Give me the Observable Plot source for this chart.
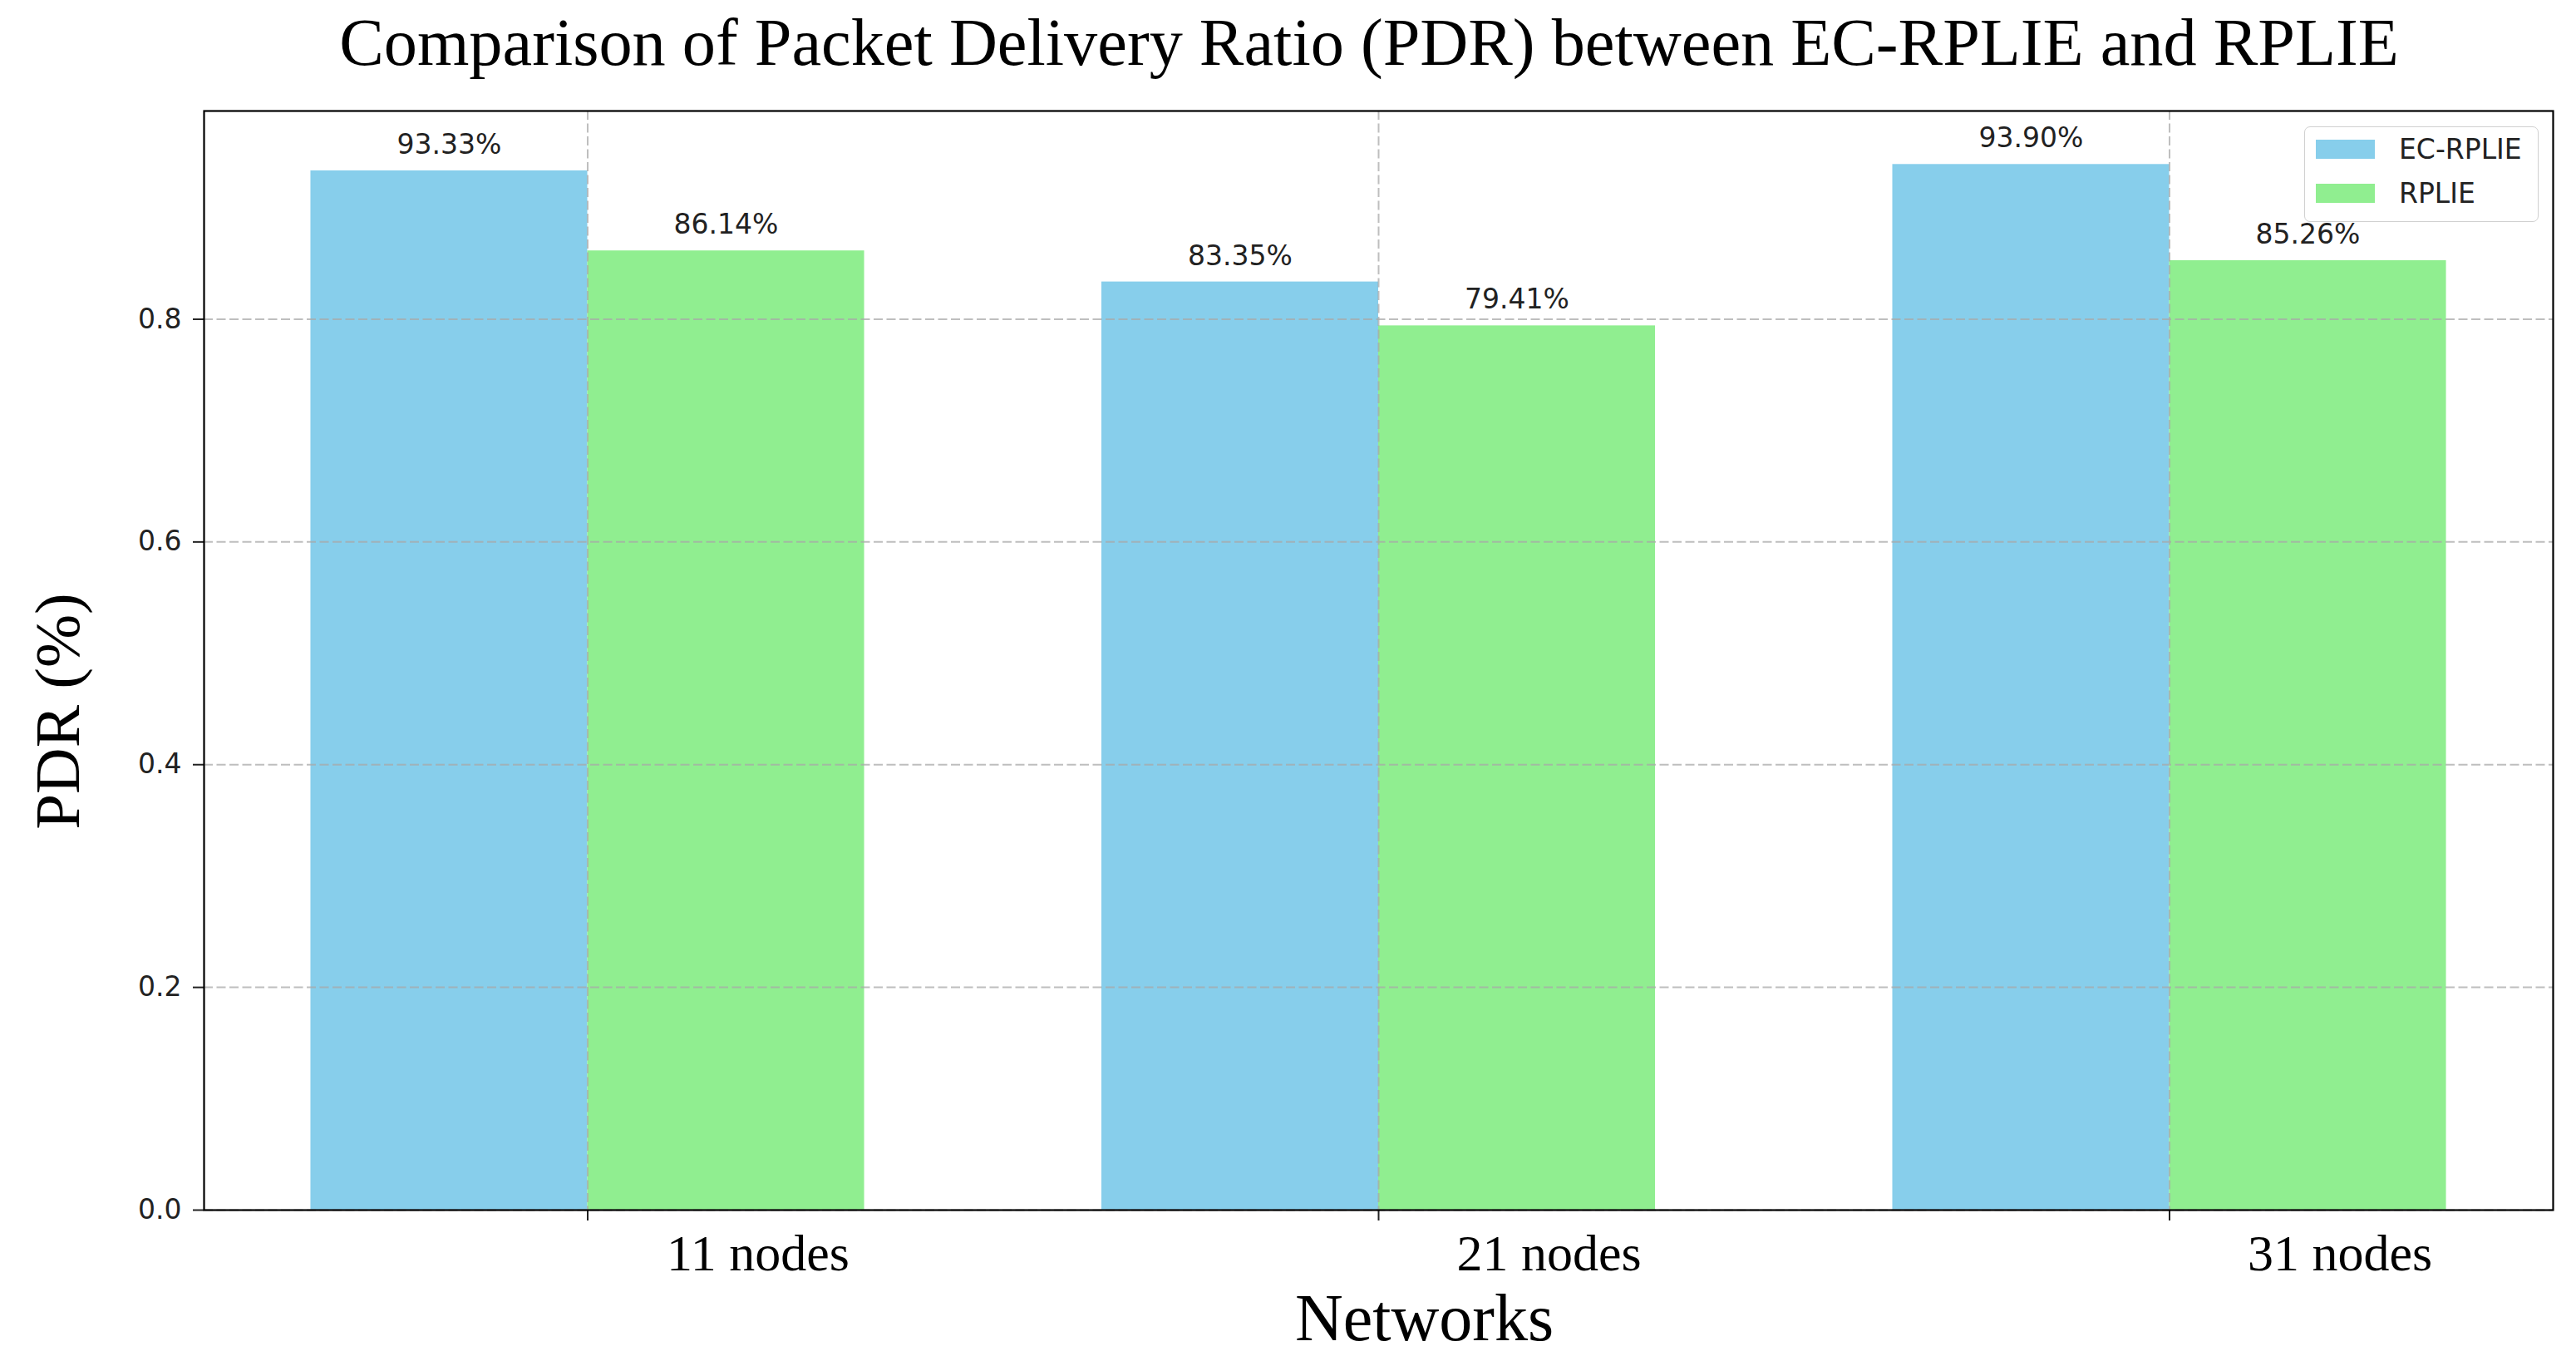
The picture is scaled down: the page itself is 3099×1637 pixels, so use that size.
<!DOCTYPE html>
<html>
<head>
<meta charset="utf-8">
<script src="https://cdn.jsdelivr.net/npm/d3@7"></script>
<script src="https://cdn.jsdelivr.net/npm/@observablehq/plot@0.6"></script>
<style>
  html, body { margin: 0; padding: 0; background: white; }
  #wrap { position: relative; width: 3099px; height: 1637px; background: white; overflow: hidden; }
  #title { height: 120px; line-height: 102px; font-family: "Liberation Serif", serif; font-size: 80.3px; color: #000; text-align: center; padding-left: 195px; white-space: nowrap; }
  #legend { position: absolute; left: 2772px; top: 152px; width: 280px; height: 113px; border: 1.5px solid #d0d0d0; border-radius: 7px; background: rgba(255,255,255,0.8); font-family: "DejaVu Sans", sans-serif; font-size: 33px; color: #222; }
  .item { position: absolute; left: 13px; height: 23px; }
  .sw { position: absolute; left: 0; top: 0; width: 71px; height: 23px; }
  .lab { position: absolute; left: 100px; top: -10px; line-height: 43px; white-space: nowrap; }
</style>
</head>
<body>
<div id="wrap">
  <div id="title">Comparison of Packet Delivery Ratio (PDR) between EC-RPLIE and RPLIE</div>
  <div id="chart"></div>
  <div id="legend"></div>
</div>
<script>
const categories = ["11 nodes", "21 nodes", "31 nodes"];
const seriesNames = ["EC-RPLIE", "RPLIE"];
const ecRplie = [0.9333, 0.8335, 0.9390];
const rplie = [0.8614, 0.7941, 0.8526];
const yTicks = [0.0, 0.2, 0.4, 0.6, 0.8];
const colors = ["#87CEEB", "#90EE90"];

const barWidth = 0.35;
const offsets = [-barWidth, 0];
const rows = [];
categories.forEach((c, i) => {
  rows.push({i, category: c, series: seriesNames[0], s: 0, value: ecRplie[i]});
  rows.push({i, category: c, series: seriesNames[1], s: 1, value: rplie[i]});
});
const idx = categories.map((_, i) => i);
const gridStyle = {stroke: "#a8a8a8", strokeOpacity: 0.75, strokeDasharray: "11,4.5", strokeWidth: 2};

const chart = Plot.plot({
  width: 3099,
  height: 1517,
  marginTop: 13,
  marginBottom: 182,
  marginLeft: 245,
  marginRight: 28,
  style: {background: "white", fontFamily: "DejaVu Sans, sans-serif", color: "#222"},
  x: {domain: [-0.485, 2.485], axis: null},
  y: {domain: [0, 0.987], axis: null},
  color: {domain: seriesNames, range: colors},
  marks: [
    Plot.rect(rows, {
      x1: d => d.i + offsets[d.s],
      x2: d => d.i + offsets[d.s] + barWidth,
      y1: 0,
      y2: "value",
      fill: "series"
    }),
    Plot.gridY(yTicks, gridStyle),
    Plot.gridX(idx, gridStyle),
    Plot.text(rows, {
      x: d => d.i + offsets[d.s] + barWidth / 2,
      y: "value",
      text: d => (d.value * 100).toFixed(2) + "%",
      dy: -31,
      lineAnchor: "middle",
      fontSize: 33,
      fontFamily: "DejaVu Sans",
      fill: "#222"
    }),
    Plot.axisY(yTicks, {
      tickSize: 13,
      tickPadding: 14,
      tickFormat: d => d.toFixed(1),
      fontSize: 33,
      fontFamily: "DejaVu Sans",
      strokeWidth: 2,
      label: null
    }),
    Plot.axisX(idx, {
      tickSize: 13,
      tickFormat: () => "",
      strokeWidth: 2,
      label: null
    }),
    Plot.axisX(idx, {
      tickSize: 0,
      tickPadding: 28,
      dx: 205,
      tickFormat: i => categories[i],
      fontSize: 62,
      fontFamily: "Liberation Serif",
      fill: "#000",
      label: null
    }),
    Plot.text(["Networks"], {
      frameAnchor: "bottom",
      text: d => d,
      textAnchor: "middle",
      dx: 55,
      dy: 131,
      lineAnchor: "middle",
      fontSize: 80,
      fontFamily: "Liberation Serif",
      fill: "#000"
    }),
    Plot.text(["PDR (%)"], {
      frameAnchor: "left",
      text: d => d,
      textAnchor: "middle",
      rotate: -90,
      dx: -175,
      dy: 61,
      lineAnchor: "middle",
      fontSize: 77,
      fontFamily: "Liberation Serif",
      fill: "#000"
    }),
    Plot.frame({stroke: "#000", strokeWidth: 2.2})
  ]
});
document.getElementById("chart").appendChild(chart);

const legend = document.getElementById("legend");
seriesNames.forEach((name, k) => {
  const item = document.createElement("div");
  item.className = "item";
  item.style.top = (15 + k * 53) + "px";
  const sw = document.createElement("div");
  sw.className = "sw";
  sw.style.background = colors[k];
  const lab = document.createElement("div");
  lab.className = "lab";
  lab.textContent = name;
  item.appendChild(sw);
  item.appendChild(lab);
  legend.appendChild(item);
});
</script>
</body>
</html>
